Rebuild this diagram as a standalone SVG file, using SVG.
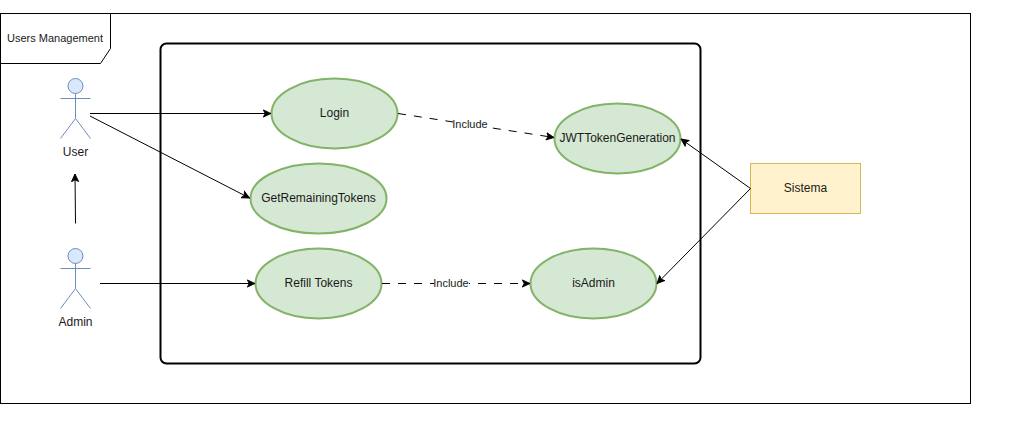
<svg xmlns="http://www.w3.org/2000/svg" width="1011" height="421" viewBox="0 0 1011 421">
<style>
text{font-family:Helvetica,"Liberation Sans",Arial,sans-serif;font-size:12px;fill:#1a1a1a;text-anchor:middle}
.uc{fill:#d5e8d4;stroke:#82b366;stroke-width:2}
.ac{fill:none;stroke:#6c8ebf}
.ah{fill:#dae8fc;stroke:#6c8ebf}
.c{fill:none;stroke:#000;stroke-width:1}
.d{stroke-dasharray:8 8}
.lb{fill:#fff;stroke:none}
</style>
<defs>
<marker id="a" markerUnits="userSpaceOnUse" markerWidth="9" markerHeight="9" refX="9" refY="5" orient="auto" viewBox="0 0 10 10"><path d="M0.5 1 L9 5 L0.5 9 L2.5 5 Z" fill="#000" stroke="#000"/></marker>
</defs>
<rect width="1011" height="421" fill="#fff"/>
<g id="frame">
<rect x="0.5" y="13.5" width="970" height="390" fill="#fff" stroke="#000"/>
<path d="M0.5 13.5H110.500V48.500L100.500 63.500H0.5Z" fill="#fff" stroke="#000"/>
<text x="55" y="42" style="font-size:11px">Users Management</text>
</g>
<g id="boundary"><rect x="160.500" y="43.500" width="540" height="320" rx="6" ry="6" fill="#fff" stroke="#000" stroke-width="2"/></g>
<g id="user">
<circle cx="75.500" cy="86" r="7.500" class="ah"/>
<path class="ac" d="M75.500 93.500V118.500M60.500 98.500H90.500M75.500 118.500L60.500 138.500M75.500 118.500L90.500 138.500"/>
<text x="75.500" y="156">User</text>
</g>
<g id="admin">
<circle cx="75.500" cy="256" r="7.500" class="ah"/>
<path class="ac" d="M75.500 263.500V288.500M60.500 268.500H90.500M75.500 288.500L60.500 308.500M75.500 288.500L90.500 308.500"/>
<text x="75.500" y="326">Admin</text>
</g>
<g id="login"><ellipse cx="334.500" cy="113.500" rx="63" ry="35" class="uc"/><text x="334.500" y="117">Login</text></g>
<g id="remaining"><ellipse cx="318.500" cy="198.500" rx="68" ry="35" class="uc"/><text x="318.500" y="202">GetRemainingTokens</text></g>
<g id="refill"><ellipse cx="318.500" cy="283.500" rx="63" ry="35" class="uc"/><text x="318.500" y="287">Refill Tokens</text></g>
<g id="jwt"><ellipse cx="617.500" cy="138.500" rx="63" ry="35" class="uc"/><text x="617.500" y="142">JWTTokenGeneration</text></g>
<g id="isadmin"><ellipse cx="593.500" cy="283.500" rx="63" ry="35" class="uc"/><text x="593.500" y="287">isAdmin</text></g>
<g id="sistema"><rect x="750.500" y="163.500" width="110" height="50" fill="#fff2cc" stroke="#d6b656"/><text x="805.500" y="192">Sistema</text></g>
<g id="connectors">
<path class="c" marker-end="url(#a)" d="M90 113.500H271"/>
<path class="c" marker-end="url(#a)" d="M90 116L249.500 198"/>
<path class="c" marker-end="url(#a)" d="M100 283.500H255"/>
<path class="c" marker-end="url(#a)" d="M75.500 223.500L75 174"/>
<path class="c d" marker-end="url(#a)" d="M398 113.500L554 137.500"/>
<path class="c d" marker-end="url(#a)" d="M382 283.500H530"/>
<path class="c" marker-end="url(#a)" d="M750.500 188.500L681 139"/>
<path class="c" marker-end="url(#a)" d="M750.500 188.500L657 283.500"/>
<rect class="lb" x="453" y="117" width="35" height="14"/><text x="470" y="128" style="font-size:11px">Include</text>
<rect class="lb" x="434" y="276" width="35" height="14"/><text x="451" y="287" style="font-size:11px">Include</text>
</g>
</svg>
